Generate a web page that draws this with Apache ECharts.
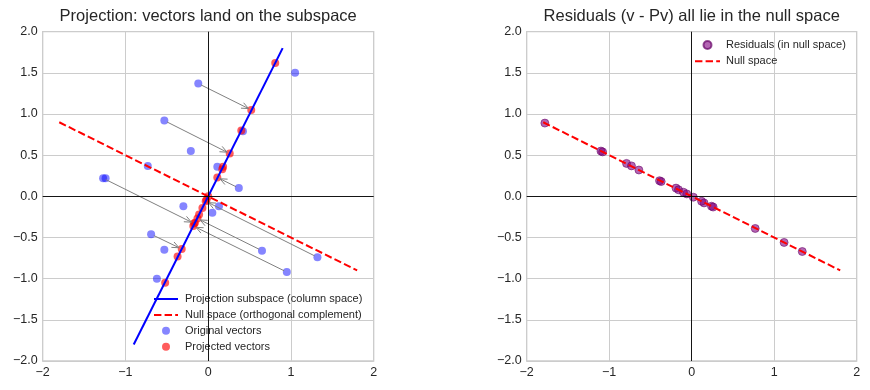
<!DOCTYPE html>
<html>
<head>
<meta charset="utf-8">
<script src="https://cdn.jsdelivr.net/npm/echarts@6/dist/echarts.min.js"></script>
<style>
html,body{margin:0;padding:0;background:#fff;}
#c{width:870px;height:390px;}
</style>
</head>
<body>
<div id="c"></div>
<script>
// ---- data ----
const origX = [1.05, -0.12, -0.53, -0.21, -0.73, 0.11, 0.42, 0.37, -1.27, -1.24, -0.30, 0.13, 0.05, -0.69, -0.53, 0.65, 1.32, 0.95, -0.62];
const origY = [1.50, 1.37, 0.92, 0.55, 0.37, 0.36, 0.79, 0.10, 0.22, 0.22, -0.12, -0.12, -0.20, -0.46, -0.65, -0.66, -0.74, -0.92, -1.00];
const projX = [0.81, 0.52, 0.26, 0.18, 0.00, 0.17, 0.40, 0.11, -0.17, -0.16, -0.11, -0.02, -0.07, -0.32, -0.37, -0.13, -0.03, -0.18, -0.52];
const projY = [1.62, 1.05, 0.52, 0.36, 0.00, 0.33, 0.80, 0.23, -0.33, -0.32, -0.22, -0.04, -0.14, -0.64, -0.73, -0.27, -0.06, -0.36, -1.05];
const arrowIdx = [1, 2, 7, 8, 13, 15, 16, 17];
const resX = [0.24, -0.64, -0.79, -0.39, -0.73, -0.06, 0.02, 0.26, -1.10, -1.08, -0.19, 0.15, 0.12, -0.37, -0.16, 0.77, 1.34, 1.12, -0.10, -1.78];
const resY = [-0.12, 0.32, 0.40, 0.19, 0.37, 0.03, -0.01, -0.13, 0.55, 0.54, 0.10, -0.08, -0.06, 0.18, 0.08, -0.39, -0.67, -0.56, 0.05, 0.89];
const subspaceX = [-0.9, 0.9];
const subspaceY = [-1.8, 1.8];
const nullX = [-1.8, 1.8];
const nullY = [0.9, -0.9];
const xTicks = [-2, -1, 0, 1, 2];
const yTicks = [-2.0, -1.5, -1.0, -0.5, 0.0, 0.5, 1.0, 1.5, 2.0];
const titles = ['Projection: vectors land on the subspace', 'Residuals (v - Pv) all lie in the null space'];
const names = {
  sub: 'Projection subspace (column space)',
  nullL: 'Null space (orthogonal complement)',
  orig: 'Original vectors',
  proj: 'Projected vectors',
  res: 'Residuals (in null space)',
  nullR: 'Null space'
};

// ---- build ----
const FONT = '"Liberation Sans", Arial, sans-serif';
const TXT = '#262626';
const CLEAR = 'rgba(0,0,0,0)';
const zip = (a, b) => a.map((v, i) => [v, b[i]]);
const minus = s => String(s).replace('-', '\u2212');

const grids = [
  {left: 42.7, top: 31.7, width: 331, height: 329.3},
  {left: 526.7, top: 31.7, width: 330, height: 329.3}
];

function xAx(gi) {
  return {
    type: 'value', gridIndex: gi, min: xTicks[0], max: xTicks[xTicks.length - 1], interval: 1,
    axisLine: {show: false}, axisTick: {show: false},
    splitLine: {show: true, lineStyle: {color: '#cccccc', width: 1}},
    axisLabel: {color: TXT, fontSize: 12.5, fontFamily: FONT, margin: 5,
      formatter: v => minus(v)}
  };
}
function yAx(gi) {
  return {
    type: 'value', gridIndex: gi, min: yTicks[0], max: yTicks[yTicks.length - 1], interval: 0.5,
    axisLine: {show: false}, axisTick: {show: false},
    splitLine: {show: true, lineStyle: {color: '#cccccc', width: 1}},
    axisLabel: {color: TXT, fontSize: 12.5, fontFamily: FONT, margin: 5,
      formatter: v => minus(v.toFixed(1))}
  };
}

const zeroLines = {
  silent: true, symbol: 'none', animation: false,
  label: {show: false},
  lineStyle: {color: '#000', width: 0.9, type: 'solid'},
  emphasis: {disabled: true},
  data: [{xAxis: 0}, {yAxis: 0}]
};

const arrowData = arrowIdx.map(i => [origX[i], origY[i], projX[i], projY[i]]);

function renderArrow(params, api) {
  const a = api.coord([api.value(0), api.value(1)]);
  const b = api.coord([api.value(2), api.value(3)]);
  const dx = b[0] - a[0], dy = b[1] - a[1];
  const len = Math.sqrt(dx * dx + dy * dy) || 1;
  const ux = dx / len, uy = dy / len;
  const sA = 3, sB = 3;
  const p0 = [a[0] + ux * sA, a[1] + uy * sA];
  const p1 = [b[0] - ux * sB, b[1] - uy * sB];
  const L = 7, W = 3;
  const nx = -uy, ny = ux;
  const h1 = [p1[0] - ux * L + nx * W, p1[1] - uy * L + ny * W];
  const h2 = [p1[0] - ux * L - nx * W, p1[1] - uy * L - ny * W];
  const st = {stroke: '#808080', lineWidth: 1, fill: null};
  return {
    type: 'group',
    children: [
      {type: 'line', shape: {x1: p0[0], y1: p0[1], x2: p1[0], y2: p1[1]}, style: st},
      {type: 'polyline', shape: {points: [h1, p1, h2]}, style: st}
    ]
  };
}

function lineSeries(name, gi, xs, ys, color, type) {
  return {
    name: name, type: 'line', xAxisIndex: gi, yAxisIndex: gi,
    data: zip(xs, ys), symbol: 'circle', symbolSize: 0, showSymbol: false, z: 3,
    lineStyle: {color: color, width: 2, type: type},
    itemStyle: {color: CLEAR, borderWidth: 0, borderColor: CLEAR},
    emphasis: {disabled: true}, silent: true
  };
}

const option = {
  animation: false,
  backgroundColor: '#ffffff',
  textStyle: {fontFamily: FONT},
  graphic: [
    {type: 'text', x: 208.2, y: 16.5, silent: true,
      style: {text: titles[0], fill: TXT, fontSize: 16.5, fontFamily: FONT, textAlign: 'center', textVerticalAlign: 'middle'}},
    {type: 'text', x: 691.7, y: 16.5, silent: true,
      style: {text: titles[1], fill: TXT, fontSize: 16.5, fontFamily: FONT, textAlign: 'center', textVerticalAlign: 'middle'}}
  ],
  grid: grids.map(g => Object.assign({show: true, borderColor: '#cccccc', borderWidth: 1.3, backgroundColor: 'transparent', containLabel: false}, g)),
  xAxis: [xAx(0), xAx(1)],
  yAxis: [yAx(0), yAx(1)],
  legend: [
    {
      data: [names.sub, names.nullL, names.orig, names.proj],
      orient: 'vertical', left: 153, top: 293.5, padding: 0,
      itemWidth: 24, itemHeight: 8, itemGap: 4.9,
      textStyle: {color: TXT, fontSize: 11, fontFamily: FONT, padding: [0, 0, 0, 2]},
      selectedMode: false
    },
    {
      data: [names.res, names.nullR],
      orient: 'vertical', left: 694, top: 39.5, padding: 0,
      itemWidth: 25, itemHeight: 8, itemGap: 5.2,
      textStyle: {color: TXT, fontSize: 11, fontFamily: FONT, padding: [0, 0, 0, 1]},
      selectedMode: false
    }
  ],
  series: [
    Object.assign(lineSeries(names.sub, 0, subspaceX, subspaceY, '#0000ff', 'solid'), {markLine: zeroLines}),
    lineSeries(names.nullL, 0, nullX, nullY, '#ff0000', [7.4, 3.2]),
    {
      name: names.orig, type: 'scatter', xAxisIndex: 0, yAxisIndex: 0,
      data: zip(origX, origY), symbol: 'circle', symbolSize: 8, z: 2,
      itemStyle: {color: 'rgba(0,0,255,0.6)'}, emphasis: {disabled: true}, silent: true
    },
    {
      name: names.proj, type: 'scatter', xAxisIndex: 0, yAxisIndex: 0,
      data: zip(projX, projY), symbol: 'circle', symbolSize: 8, z: 2,
      itemStyle: {color: 'rgba(255,0,0,0.8)'}, emphasis: {disabled: true}, silent: true
    },
    {
      name: 'arrows', type: 'custom', xAxisIndex: 0, yAxisIndex: 0,
      data: arrowData, renderItem: renderArrow, z: 4, silent: true,
      encode: {x: [0, 2], y: [1, 3]}
    },
    {
      name: names.res, type: 'scatter', xAxisIndex: 1, yAxisIndex: 1,
      data: zip(resX, resY), symbol: 'circle', symbolSize: 8, z: 2,
      itemStyle: {color: 'rgba(128,0,128,0.75)', borderColor: 'rgba(100,0,100,0.85)', borderWidth: 0.8},
      emphasis: {disabled: true}, silent: true,
      markLine: zeroLines
    },
    lineSeries(names.nullR, 1, nullX, nullY, '#ff0000', [7.4, 3.2])
  ]
};

const chart = echarts.init(document.getElementById('c'), null, {renderer: 'canvas'});
chart.setOption(option);
</script>
</body>
</html>
